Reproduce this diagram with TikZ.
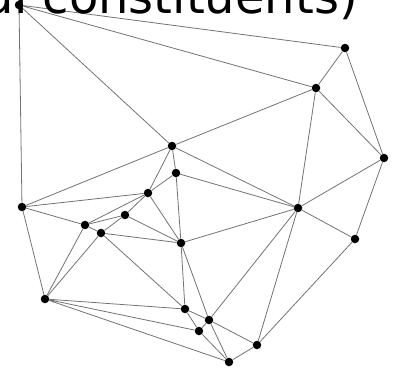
\documentclass[tikz,border=0pt]{standalone}
\usepackage{fontspec}
\usepackage{xcolor}
\usepackage{tikz}
\newfontfamily\titlefont{DejaVu Sans}

\begin{document}
\begin{tikzpicture}[
  x=1pt, y=-1pt,
  vtx/.style={circle, fill=black, inner sep=0pt, minimum size=8.5pt},
  edge/.style={draw=black!55, line width=0.8pt},
  caption/.style={anchor=base east, inner sep=0pt, font=\titlefont\fontsize{48}{58}\selectfont}
]
\useasboundingbox (0,0) rectangle (399,368);
\clip (0,0) rectangle (399,368);

\node[vtx] (a) at (19, 5) {};
\node[vtx] (b) at (345, 48) {};
\node[vtx] (c) at (316, 88) {};
\node[vtx] (d) at (384, 158) {};
\node[vtx] (e) at (172, 146) {};
\node[vtx] (f) at (176, 173) {};
\node[vtx] (g) at (148, 193) {};
\node[vtx] (h) at (22, 207) {};
\node[vtx] (i) at (125, 215) {};
\node[vtx] (j) at (85, 225) {};
\node[vtx] (k) at (101, 233) {};
\node[vtx] (l) at (181, 243) {};
\node[vtx] (m) at (298, 208) {};
\node[vtx] (n) at (355, 239) {};
\node[vtx] (o) at (45, 299) {};
\node[vtx] (p) at (185, 309) {};
\node[vtx] (q) at (209, 320) {};
\node[vtx] (r) at (199, 331) {};
\node[vtx] (s) at (257, 345) {};
\node[vtx] (t) at (229, 362) {};

% outer part
\draw[edge] (a) -- (b) (a) -- (c) (a) -- (e) (a) -- (h);
\draw[edge] (b) -- (c) (b) -- (d);
\draw[edge] (c) -- (d) (c) -- (e) (c) -- (m);
\draw[edge] (d) -- (m) (d) -- (n);
\draw[edge] (e) -- (f) (e) -- (g) (e) -- (h) (e) -- (m);
\draw[edge] (f) -- (g) (f) -- (l) (f) -- (m);
\draw[edge] (g) -- (h) (g) -- (i) (g) -- (j) (g) -- (l);
\draw[edge] (h) -- (j) (h) -- (o);
% inner part
\draw[edge] (i) -- (j) (i) -- (k) (i) -- (l);
\draw[edge] (j) -- (k) (j) -- (o);
\draw[edge] (k) -- (l) (k) -- (o) (k) -- (p);
\draw[edge] (l) -- (m) (l) -- (p) (l) -- (q);
\draw[edge] (m) -- (n) (m) -- (q) (m) -- (s);
\draw[edge] (n) -- (s);
\draw[edge] (o) -- (p) (o) -- (r) (o) -- (t);
\draw[edge] (p) -- (q) (p) -- (r);
\draw[edge] (q) -- (r) (q) -- (s) (q) -- (t);
\draw[edge] (r) -- (t) (s) -- (t);

\node[caption] (title) at (358, 13) {ral constituents)};

\end{tikzpicture}
\end{document}
